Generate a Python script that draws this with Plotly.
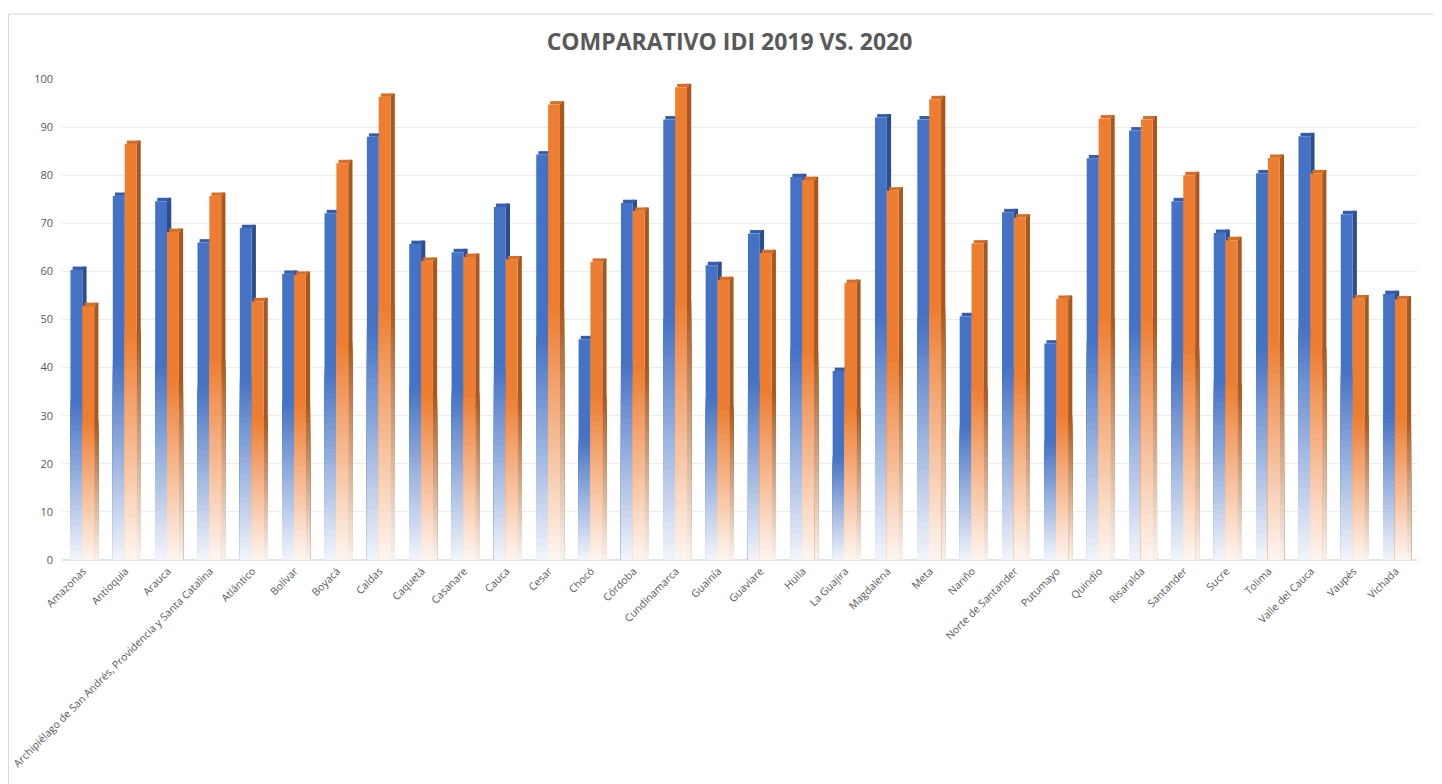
import plotly.graph_objects as go

# ---------------- data ----------------
departamentos = [
    "Amazonas", "Antioquia", "Arauca",
    "Archipiélago de San Andrés, Providencia y Santa Catalina",
    "Atlántico", "Bolívar", "Boyacá", "Caldas", "Caquetá", "Casanare",
    "Cauca", "Cesar", "Chocó", "Córdoba", "Cundinamarca", "Guainía",
    "Guaviare", "Huila", "La Guajira", "Magdalena", "Meta", "Nariño",
    "Norte de Santander", "Putumayo", "Quindío", "Risaralda", "Santander",
    "Sucre", "Tolima", "Valle del Cauca", "Vaupés", "Vichada",
]
idi_2019 = [60.3, 75.7, 74.6, 66.0, 69.0, 59.5, 72.1, 88.0, 65.7, 64.0,
            73.4, 84.3, 45.9, 74.2, 91.6, 61.3, 67.9, 79.6, 39.3, 92.0,
            91.6, 50.7, 72.3, 45.0, 83.5, 89.3, 74.6, 68.0, 80.4, 88.1,
            71.9, 55.3]
idi_2020 = [52.8, 86.5, 68.2, 75.7, 53.8, 59.3, 82.5, 96.3, 62.2, 63.0,
            62.5, 94.7, 62.0, 72.6, 98.3, 58.2, 63.8, 79.0, 57.6, 76.8,
            95.8, 65.8, 71.2, 54.3, 91.8, 91.6, 80.0, 66.5, 83.6, 80.4,
            54.4, 54.2]
y_ticks = list(range(0, 101, 10))

# ---------------- style ----------------
W = 0.28      # front face width (category units)
D = 0.10      # depth of the pseudo-3D side
H = 0.7       # rise of the top face (value units)
FADE = 0.55   # lower fraction of each bar that fades to white
N = 32        # gradient steps

series = [
    dict(name="2019", vals=idi_2019, off=-0.30,
         front=(68, 114, 196), side=(44, 78, 140), cap=(52, 94, 172)),
    dict(name="2020", vals=idi_2020, off=-0.02,
         front=(237, 125, 49), side=(166, 88, 30), cap=(214, 110, 40)),
]


def mix(rgb, t):
    r, g, b = [round(255 + (c - 255) * t) for c in rgb]
    return f"rgb({r},{g},{b})"


fig = go.Figure()


def faded_stack(vals, off, width, rgb, extra=0.0):
    # full bar first, then progressively lighter/shorter bars on top
    fig.add_trace(go.Bar(
        x=departamentos, y=[v + extra for v in vals], base=0,
        offset=off, width=width, marker=dict(color=mix(rgb, 1.0), line_width=0),
        showlegend=False, hoverinfo="skip", cliponaxis=False))
    for k in range(N - 1, -1, -1):
        frac = (k + 1) / N
        t = 0.07 + 0.93 * (k + 0.5) / N
        fig.add_trace(go.Bar(
            x=departamentos, y=[v * FADE * frac for v in vals], base=0,
            offset=off, width=width, marker=dict(color=mix(rgb, t), line_width=0),
            showlegend=False, hoverinfo="skip", cliponaxis=False))


for s in series:
    # side face
    faded_stack(s["vals"], s["off"] + W, D, s["side"], extra=H)
    # top face
    fig.add_trace(go.Bar(
        x=departamentos, y=[H] * len(s["vals"]), base=s["vals"],
        offset=s["off"] + D * 0.5, width=W, marker=dict(color=mix(s["cap"], 1.0), line_width=0),
        showlegend=False, hoverinfo="skip", cliponaxis=False))
    # front face
    faded_stack(s["vals"], s["off"], W, s["front"])

# the page adds an 8px body margin, so the figure is placed at (8, 8)
FW, FH = 1434, 776
L, T = 54, 71
R = FW - 1409
B = FH - 552

fig.update_layout(
    width=FW, height=FH,
    barmode="overlay",
    paper_bgcolor="white", plot_bgcolor="white",
    margin=dict(l=L, r=R, t=T, b=B),
    showlegend=False,
    title=dict(text="<b>COMPARATIVO IDI 2019 VS. 2020</b>",
               x=721.5 / FW, xref="container", xanchor="center",
               y=1 - 34 / FH, yref="container", yanchor="middle",
               font=dict(family="Open Sans", size=23, color="#595959")),
    font=dict(family="Open Sans", color="#595959"),
)
fig.update_xaxes(
    type="category", tickangle=-45, automargin=False,
    tickfont=dict(family="Open Sans", size=10.5, color="#595959"),
    showgrid=False, showline=True, linecolor="#e3e3e3", linewidth=1,
    ticks="", range=[-0.5, len(departamentos) - 0.5],
)
fig.update_yaxes(
    range=[0, 100], tickvals=y_ticks, automargin=False,
    tickfont=dict(family="Open Sans", size=11, color="#595959"),
    showgrid=True, gridcolor="#ececec", gridwidth=1,
    zeroline=True, zerolinecolor="#e3e3e3",
    showline=False, ticks="", ticklabelstandoff=8,
)

# chart-area border
pw = FW - L - R
ph = FH - T - B
fig.add_shape(type="rect", xref="paper", yref="paper",
              x0=(0.5 - L) / pw, x1=(1428 - L) / pw,
              y0=(552 - 800) / ph, y1=(552 - 6) / ph,
              line=dict(color="#d9d9d9", width=1), layer="below")

fig.write_html("out.html")
